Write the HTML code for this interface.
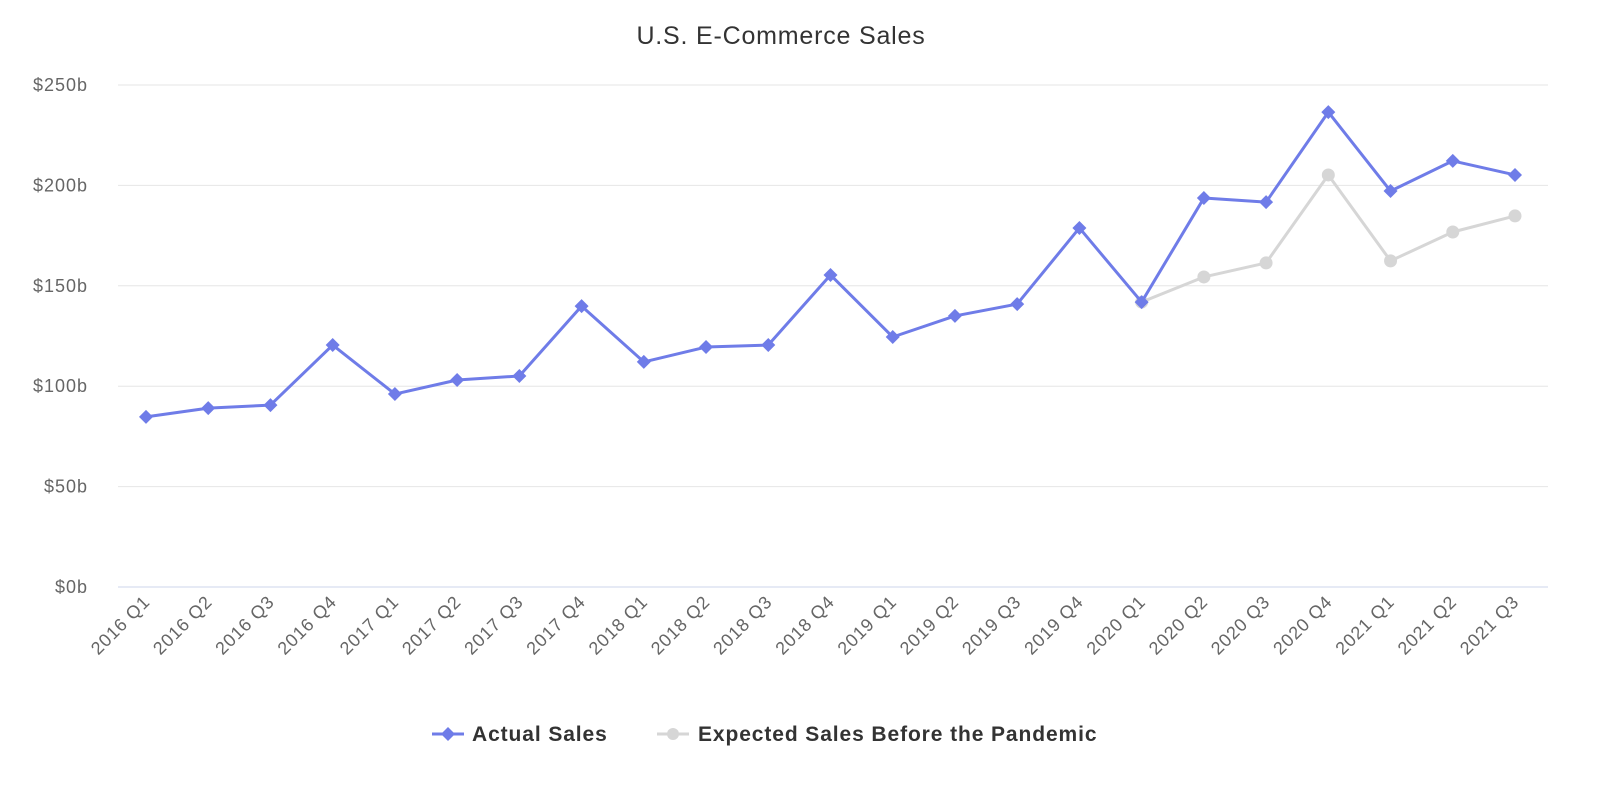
<!DOCTYPE html>
<html><head><meta charset="utf-8"><style>
html,body{margin:0;padding:0;background:#fff;}
svg{display:block;font-family:"Liberation Sans","DejaVu Sans",sans-serif;}
</style></head><body>
<svg id="chart" width="1602" height="786" viewBox="0 0 1602 786">
<text x="781" y="44" text-anchor="middle" font-size="25" letter-spacing="0.8" fill="#333">U.S. E-Commerce Sales</text>
<g id="grid"></g><g id="yticks"></g><g id="xticks"></g><g id="series"></g>
<g>
<g>
<line x1="432" y1="734" x2="464" y2="734" stroke="#6f7ce8" stroke-width="3"/>
<path d="M448 727 L455 734 L448 741 L441 734Z" fill="#6f7ce8"/>
<text x="472" y="741" font-size="21" letter-spacing="0.9" font-weight="bold" fill="#333">Actual Sales</text></g>
<g>
<line x1="657" y1="734" x2="689" y2="734" stroke="#d6d6d6" stroke-width="3"/>
<circle cx="673" cy="734" r="6" fill="#d6d6d6"/>
<text x="698" y="741" font-size="21" letter-spacing="0.9" font-weight="bold" fill="#333">Expected Sales Before the Pandemic</text></g>
</g>
</svg>
<script>
const categories=["2016 Q1","2016 Q2","2016 Q3","2016 Q4","2017 Q1","2017 Q2","2017 Q3","2017 Q4","2018 Q1","2018 Q2","2018 Q3","2018 Q4","2019 Q1","2019 Q2","2019 Q3","2019 Q4","2020 Q1","2020 Q2","2020 Q3","2020 Q4","2021 Q1","2021 Q2","2021 Q3"];
const actualSales=[84.7,89.1,90.6,120.5,96.1,103.1,105.1,139.9,112.1,119.5,120.5,155.4,124.5,135,140.9,178.8,141.9,193.7,191.7,236.5,197.2,212.2,205.2];
const expectedSales=[null,null,null,null,null,null,null,null,null,null,null,null,null,null,null,null,141.9,154.4,161.4,205.2,162.4,176.8,184.8];
const yTicks=[0,50,100,150,200,250];
const NS="http://www.w3.org/2000/svg";
const x0=146,x1=1515,y0=587,yTop=85,yMax=250;
function xs(i){return x0+(x1-x0)*i/(categories.length-1);}
function ys(v){return y0-(y0-yTop)*v/yMax;}
function mk(tag,attrs,parent){const e=document.createElementNS(NS,tag);for(const k in attrs)e.setAttribute(k,attrs[k]);parent.appendChild(e);return e;}
const grid=document.getElementById('grid'),yt=document.getElementById('yticks'),xt=document.getElementById('xticks'),ser=document.getElementById('series');
yTicks.forEach(v=>{
 const l=mk('line',{x1:118,x2:1548,y1:ys(v),y2:ys(v),stroke:v===0?'#ccd6eb':'#e6e6e6','stroke-width':1},grid);
 
 
 const t=mk('text',{x:88,y:ys(v)+6,'text-anchor':'end','font-size':18,'letter-spacing':1,fill:'#666'},yt);
 t.textContent='$'+v+'b';
 
 
});
categories.forEach((c,i)=>{
 const x=xs(i)+5,y=603;
 const t=mk('text',{x:x,y:y,'text-anchor':'end','font-size':18,'letter-spacing':0.8,fill:'#666',transform:`rotate(-45 ${x} ${y})`},xt);
 t.textContent=c;
 
 
});
function drawSeries(data,color,name,marker){
 const pts=[];data.forEach((v,i)=>{if(v!=null)pts.push([xs(i),ys(v)]);});
 const p=mk('polyline',{points:pts.map(p=>p.join(',')).join(' '),fill:'none',stroke:color,'stroke-width':3,'stroke-linejoin':'round'},ser);
 
 
 pts.forEach(([x,y])=>{
  let m;
  if(marker==='diamond')m=mk('path',{d:`M${x} ${y-7} L${x+7} ${y} L${x} ${y+7} L${x-7} ${y}Z`,fill:color},ser);
  else m=mk('circle',{cx:x,cy:y,r:6.5,fill:color},ser);
  
  
 });
}
drawSeries(expectedSales,'#d6d6d6','expected-sales','circle');
drawSeries(actualSales,'#6f7ce8','actual-sales','diamond');
</script>
</body></html>
